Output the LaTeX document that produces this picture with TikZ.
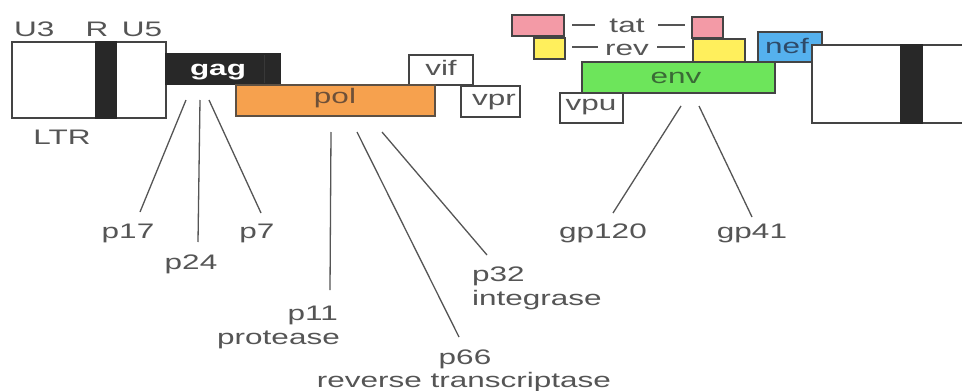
\documentclass[tikz,border=0pt]{standalone}
\usepackage{fontspec}
\setmainfont{Liberation Sans}[FakeStretch=1.5]
\definecolor{txt}{HTML}{555555}
\definecolor{boxline}{HTML}{444444}
\definecolor{darkfill}{HTML}{282828}
\definecolor{polfill}{HTML}{F6A14E}
\definecolor{poltxt}{HTML}{6E5038}
\definecolor{tatfill}{HTML}{F39AA6}
\definecolor{revfill}{HTML}{FFEF5C}
\definecolor{neffill}{HTML}{55B1EE}
\definecolor{neftxt}{HTML}{2E4A68}
\definecolor{envfill}{HTML}{6DE55B}
\definecolor{envtxt}{HTML}{3A6A36}
\begin{document}
\begin{tikzpicture}[x=1pt,y=-1pt,
  box/.style={draw=boxline, line width=1.2pt, inner sep=0pt, outer sep=0pt},
  lab/.style={text=txt, font=\fontsize{21}{24}\selectfont, inner sep=0pt, anchor=base},
  conn/.style={draw=txt, line width=1.3pt},
  dashln/.style={draw=txt, line width=1.8pt}]
\useasboundingbox[fill=white] (0,0) rectangle (962,391);

% left LTR
\node[box, fill=white, minimum width=154pt, minimum height=76pt] (ltrL) at (89,80) {};
\node[box, fill=darkfill, draw=darkfill, minimum width=20pt, minimum height=76pt] (rbarL) at (106,80) {};
\node[lab, anchor=base west] (u3) at (14,36) {U3};
\node[lab] (rlab) at (97,36) {R};
\node[lab] (u5) at (142,36) {U5};
\node[lab] (ltr) at (62,144) {LTR};

% gag
\node[box, fill=darkfill, draw=darkfill, minimum width=114pt, minimum height=30pt] (gag) at (223,69) {};
\draw[draw=black!78, line width=1pt] (gag.north) ++(41,1) coordinate (gs1) -- ++(0,28) coordinate (gs2);
\node[lab, text=white, font=\fontsize{21}{24}\selectfont\bfseries] (gagt) at (218,75) {gag};

% vif, pol, vpr
\node[box, fill=white, minimum width=64pt, minimum height=30pt] (vif) at (441,70) {};
\node[lab] (vift) at (441,75) {vif};
\node[box, fill=polfill, draw=boxline!80!brown, minimum width=199pt, minimum height=31pt] (pol) at (335.5,100.5) {};
\node[lab, text=poltxt] (polt) at (335,103) {pol};
\node[box, fill=white, minimum width=59pt, minimum height=31pt] (vpr) at (490.5,101.5) {};
\node[lab] (vprt) at (494,105) {vpr};

% tat / rev
\node[box, fill=tatfill, minimum width=52pt, minimum height=21pt] (tatL) at (538,25.5) {};
\node[box, fill=revfill, minimum width=31pt, minimum height=21pt] (revL) at (549.5,48.5) {};
\node[box, fill=tatfill, minimum width=31pt, minimum height=21pt] (tatR) at (707.5,27.5) {};
\node[box, fill=revfill, minimum width=52pt, minimum height=23pt] (revR) at (719,50.5) {};
\node[lab] (tat) at (627,32) {tat};
\node[lab] (rev) at (627,55) {rev};
\coordinate (td1) at (572,25); \coordinate (td2) at (595,25);
\coordinate (td3) at (658,25); \coordinate (td4) at (685,25);
\coordinate (rd1) at (572,47); \coordinate (rd2) at (598,47);
\coordinate (rd3) at (657,47); \coordinate (rd4) at (685,47);
\draw[dashln] (td1) -- (td2);
\draw[dashln] (td3) -- (td4);
\draw[dashln] (rd1) -- (rd2);
\draw[dashln] (rd3) -- (rd4);

% nef, env, vpu
\node[box, fill=neffill, minimum width=64pt, minimum height=30pt] (nef) at (790,47) {};
\node[lab, text=neftxt] (neft) at (787,53) {nef};
\node[box, fill=white, minimum width=63pt, minimum height=30pt] (vpu) at (591.5,108) {};
\node[lab] (vput) at (591,110) {vpu};
\node[box, fill=envfill, minimum width=193pt, minimum height=31pt] (env) at (678.5,77.5) {};
\node[lab, text=envtxt] (envt) at (676,83) {env};

% right LTR (clipped)
\begin{scope}
\clip (0,0) rectangle (962,391);
\node[box, fill=white, minimum width=200pt, minimum height=78pt] (ltrR) at (912,84) {};
\node[box, fill=darkfill, draw=darkfill, minimum width=21pt, minimum height=78pt] (rbarR) at (911.5,84) {};
\end{scope}

% gag products
\node[lab] (p17) at (128,238) {p17};
\node[lab] (p24) at (191,269) {p24};
\node[lab] (p7) at (257,238) {p7};
\coordinate (a1) at (186,100); \coordinate (b1) at (140,212);
\coordinate (a2) at (200,100); \coordinate (b2) at (198,242);
\coordinate (a3) at (209,100); \coordinate (b3) at (261,213);
\draw[conn] (a1) -- (b1);
\draw[conn] (a2) -- (b2);
\draw[conn] (a3) -- (b3);

% pol products
\node[lab, anchor=base east] (p11) at (338,320) {p11};
\node[lab, anchor=base east] (prot) at (340,344) {protease};
\node[lab] (p66) at (465,364) {p66};
\node[lab] (rt) at (464,387) {reverse transcriptase};
\node[lab, anchor=base west] (p32) at (472,281) {p32};
\node[lab, anchor=base west] (integ) at (472,305) {integrase};
\coordinate (c1) at (331,132); \coordinate (d1) at (330,290);
\coordinate (c2) at (357,132); \coordinate (d2) at (459,337);
\coordinate (c3) at (382,132); \coordinate (d3) at (487,255);
\draw[conn] (c1) -- (d1);
\draw[conn] (c2) -- (d2);
\draw[conn] (c3) -- (d3);

% env products
\node[lab] (gp120) at (603,238) {gp120};
\node[lab] (gp41) at (752,238) {gp41};
\coordinate (e1) at (681,106); \coordinate (f1) at (613,213);
\coordinate (e2) at (699,106); \coordinate (f2) at (752,217);
\draw[conn] (e1) -- (f1);
\draw[conn] (e2) -- (f2);
\end{tikzpicture}
\end{document}
